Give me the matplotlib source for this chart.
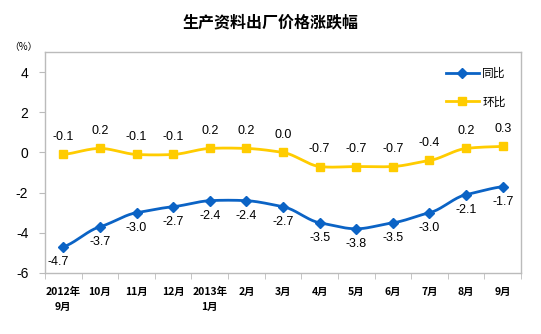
import numpy as np
import matplotlib
matplotlib.use("Agg")
import matplotlib.pyplot as plt

plt.rcParams['font.family'] = ['Noto Sans CJK SC', 'DejaVu Sans']

categories = ["2012年\n9月", "10月", "11月", "12月", "2013年\n1月", "2月", "3月",
              "4月", "5月", "6月", "7月", "8月", "9月"]
yoy = [-4.7, -3.7, -3.0, -2.7, -2.4, -2.4, -2.7, -3.5, -3.8, -3.5, -3.0, -2.1, -1.7]
mom = [-0.1, 0.2, -0.1, -0.1, 0.2, 0.2, 0.0, -0.7, -0.7, -0.7, -0.4, 0.2, 0.3]
yticks = [-6, -4, -2, 0, 2, 4]

BLUE = "#0B63C5"
GOLD = "#FFCC00"


def smooth(x, y, n=20):
    x = np.asarray(x, float)
    y = np.asarray(y, float)
    m = np.zeros_like(y)
    m[1:-1] = (y[2:] - y[:-2]) / (x[2:] - x[:-2])
    m[0] = y[1] - y[0]
    m[-1] = y[-1] - y[-2]
    xs, ys = [], []
    for i in range(len(x) - 1):
        t = np.linspace(0, 1, n, endpoint=False)
        h = x[i + 1] - x[i]
        h00 = 2 * t**3 - 3 * t**2 + 1
        h10 = t**3 - 2 * t**2 + t
        h01 = -2 * t**3 + 3 * t**2
        h11 = t**3 - t**2
        xs.append(x[i] + t * h)
        ys.append(h00 * y[i] + h10 * h * m[i] * 0.6 + h01 * y[i + 1] + h11 * h * m[i + 1] * 0.6)
    xs.append([x[-1]])
    ys.append([y[-1]])
    return np.concatenate(xs), np.concatenate(ys)


fig = plt.figure(figsize=(5.41, 3.34), dpi=100)
ax = fig.add_axes([45 / 541, 1 - 273 / 334, 476 / 541, 221 / 334])

x = np.arange(len(categories))
sx, sy = smooth(x, yoy)
ax.plot(sx, sy, color=BLUE, lw=2)
ax.plot(x, yoy, ls='none', marker='D', ms=5, color=BLUE)
sx, sy = smooth(x, mom)
ax.plot(sx, sy, color=GOLD, lw=2)
ax.plot(x, mom, ls='none', marker='s', ms=6, color=GOLD)

# legend handles
ax.plot([], [], color=BLUE, lw=2, marker='D', ms=5, label='同比')
ax.plot([], [], color=GOLD, lw=2, marker='s', ms=6, label='环比')
h, l = ax.get_legend_handles_labels()
ax.legend(h, l, loc='upper right', bbox_to_anchor=(0.99, 0.98), frameon=False,
          fontsize=8.5, handlelength=2.8, labelspacing=1.3, handletextpad=0.3)

for i, v in enumerate(yoy):
    dx = -0.15 if i == 0 else 0.0
    ax.text(i + dx, v - 0.45, f"{v:.1f}", ha='center', va='top', fontsize=9,
            family=['Liberation Sans', 'DejaVu Sans'])
for i, v in enumerate(mom):
    ax.text(i, v + 0.55, f"{v:.1f}", ha='center', va='bottom', fontsize=9,
            family=['Liberation Sans', 'DejaVu Sans'])

ax.set_xlim(-0.5, len(categories) - 0.5)
ax.set_ylim(-6, 5)
ax.set_yticks(yticks)
ax.set_yticklabels([str(t) for t in yticks], fontsize=10,
                   family=['Liberation Sans', 'DejaVu Sans'])
ax.set_xticks(x)
ax.set_xticklabels(categories, fontsize=7.5, fontweight='bold', linespacing=1.6)
ax.tick_params(axis='x', length=0, pad=10)
ax.set_xticks(np.arange(-0.5, len(categories), 1.0), minor=True)
ax.tick_params(axis='x', which='minor', length=4, color='#BBBBBB', direction='out')
ax.tick_params(axis='y', length=4, color='#BBBBBB', direction='out', pad=8)
for s in ax.spines.values():
    s.set_color('#BBBBBB')
    s.set_linewidth(1)

fig.text(0.5, 1 - 22 / 334, '生产资料出厂价格涨跌幅', ha='center', va='center',
         fontsize=11.5, fontweight='bold')
fig.text(23 / 541, 1 - 47 / 334, '（%）', ha='center', va='center', fontsize=7)

fig.savefig('out.png', dpi=100)
